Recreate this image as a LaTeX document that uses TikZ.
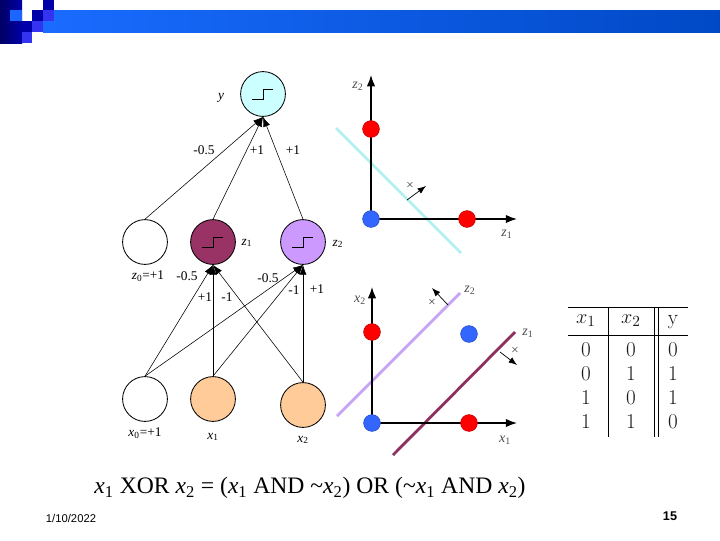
\documentclass[tikz,border=0pt]{standalone}
\usepackage{fontspec}
\newfontfamily\tnr{Liberation Serif}
\newfontfamily\arial{Liberation Sans}
\usetikzlibrary{arrows.meta}

\newcommand{\sv}[2]{\textit{#1}\textsubscript{#2}}

\begin{document}
\begin{tikzpicture}[x=0.025cm, y=-0.025cm,
    unit/.style={circle, draw, line width=0.6pt, minimum size=1.12cm, inner sep=0pt},
    stepunit/.style={unit, path picture={
        \draw[line width=0.7pt] ([shift={(-11,5)}]path picture bounding box.center)
          -- ++(11,0) -- ++(0,-10) -- ++(10,0);}},
    wire/.style={-{Latex[length=7pt,width=5pt]}, line width=0.4pt},
    lbl/.style={font=\tnr\fontsize{9.5}{10}\selectfont},
    axlbl/.style={font=\tnr\fontsize{10}{11}\selectfont, text=black!70},
    axis/.style={-{Latex[length=8pt,width=6pt]}, line width=1pt},
    dot/.style={circle, minimum size=0.42cm, inner sep=0pt, draw=#1!75!black, fill=#1},
    flip/.style={-{Latex[length=6pt,width=4.5pt]}, line width=0.5pt},
    cross/.style={font=\scriptsize, inner sep=0pt},
    cell/.style={font=\fontsize{15}{16}\selectfont, text=black!90}]
    % Define colours
    \definecolor{barLeft}{HTML}{1A6CFF}
    \definecolor{barRight}{HTML}{0049C6}
    \definecolor{navyBlue}{HTML}{0000A8}
    \definecolor{midBlue}{HTML}{3333F0}
    \definecolor{skyBlue}{HTML}{1A66FF}
    \definecolor{outColour}{HTML}{CCFFFF}
    \definecolor{zOneColour}{HTML}{993366}
    \definecolor{zTwoColour}{HTML}{CC99FF}
    \definecolor{inColour}{HTML}{FFCC99}
    \definecolor{dotRed}{HTML}{FF0000}
    \definecolor{dotBlue}{HTML}{3366FF}
    \definecolor{cyanLine}{HTML}{B0F0F0}
    \definecolor{lavLine}{HTML}{C8A4F4}
    \definecolor{marLine}{HTML}{8E3060}

  \useasboundingbox (0,0) rectangle (720,540);

  % Header bar and corner squares
  \shade[left color=barLeft, right color=barRight] (43,10) rectangle (720,32);
  \shade[left color=black!40!navyBlue, right color=navyBlue] (0,0) rectangle (22,43);
  \fill[skyBlue] (10,10) rectangle (22,21);
  \fill[navyBlue] (43,0) rectangle (54,10);
  \fill[navyBlue] (32,10) rectangle (43,21);
  \fill[midBlue] (43,10) rectangle (54,21);
  \fill[navyBlue] (22,21) rectangle (32,32);
  \fill[midBlue] (32,21) rectangle (43,32);
  \fill[midBlue] (22,32) rectangle (32,43);

  % Network units
  \node[stepunit, fill=outColour] (y) at (263,94) {};
  \node[unit] (z0) at (145,242) {};
  \node[stepunit, fill=zOneColour] (z1) at (213,242) {};
  \node[stepunit, fill=zTwoColour] (z2) at (303,242) {};
  \node[unit] (x0) at (145,399) {};
  \node[unit, fill=inColour] (x1) at (213,399) {};
  \node[unit, fill=inColour] (x2) at (303,405) {};

  % Connections
  \foreach \src in {z0,z1,z2}
    \draw[wire] (\src.north) -- (y.south);
  \foreach \src in {x0,x1,x2} {
    \draw[wire] (\src.north) -- (z1.south);
    \draw[wire] (\src.north) -- (z2.south);
  }

  % Unit labels and weights
  \node[lbl] (ylab) at (221,98) {\textit{y}};
  \node[lbl] (z1lab) at (247,243) {\sv{z}{1}};
  \node[lbl] (z2lab) at (338,244) {\sv{z}{2}};
  \node[lbl] (z0lab) at (148,276) {\sv{z}{0}=+1};
  \node[lbl] (x0lab) at (145,433) {\sv{x}{0}=+1};
  \node[lbl] (x1lab) at (213,437) {\sv{x}{1}};
  \node[lbl] (x2lab) at (303,440) {\sv{x}{2}};
  \node[lbl] (wy0) at (204,150) {-0.5};
  \node[lbl] (wy1) at (257,150) {+1};
  \node[lbl] (wy2) at (293,150) {+1};
  \node[lbl] (wa0) at (187,276) {-0.5};
  \node[lbl] (wa1) at (205,297) {+1};
  \node[lbl] (wa2) at (227,297) {-1};
  \node[lbl] (wb0) at (268,278) {-0.5};
  \node[lbl] (wb1) at (294,290) {-1};
  \node[lbl] (wb2) at (317,289) {+1};

  % Hidden space (z1, z2)
  \draw[cyanLine, line width=2pt] (336,128) -- (461,253);
  \draw[axis] (371,219) -- (371,75);
  \draw[axis] (371,219) -- (517,219);
  \node[dot=dotRed] (zp01) at (371,129) {};
  \node[dot=dotRed] (zp10) at (467,219) {};
  \node[dot=dotBlue] (zp00) at (371,219) {};
  \draw[flip] (407,200) -- (426,186);
  \node[cross] (zcross) at (410,185) {$\times$};
  \node[axlbl] (zax2) at (358,86) {\sv{z}{2}};
  \node[axlbl] (zax1) at (507,234) {\sv{z}{1}};

  % Input space (x1, x2)
  \draw[lavLine, line width=2pt] (337,416) -- (460,293);
  \draw[marLine, line width=2pt] (393,455) -- (515,332);
  \draw[axis] (372,423) -- (372,287);
  \draw[axis] (372,423) -- (517,423);
  \node[dot=dotRed] (xp01) at (372,332) {};
  \node[dot=dotBlue] (xp11) at (469,334) {};
  \node[dot=dotRed] (xp10) at (469,423) {};
  \node[dot=dotBlue] (xp00) at (372,423) {};
  \draw[flip] (448,305) -- (432,288);
  \node[cross] (xcrossa) at (432,302) {$\times$};
  \draw[flip] (500,352) -- (517,365);
  \node[cross] (xcrossb) at (515,350) {$\times$};
  \node[axlbl] (xax2) at (360,300) {\sv{x}{2}};
  \node[axlbl] (xax1) at (505,440) {\sv{x}{1}};
  \node[axlbl] (lz2) at (470,290) {\sv{z}{2}};
  \node[axlbl] (lz1) at (528,333) {\sv{z}{1}};

  % Truth table
  \draw[line width=0.5pt] (568,307) -- (688,307);
  \draw[line width=0.5pt] (568,335) -- (688,335);
  \foreach \vx in {608,654,658}
    \draw[line width=0.5pt] (\vx,307) -- (\vx,437);
  \node[cell] (h1) at (586,321) {$x_1$};
  \node[cell] (h2) at (631,321) {$x_2$};
  \node[cell] (h3) at (673,322) {y};
  \foreach \a/\b/\c [count=\r] in {0/0/0,0/1/1,1/0/1,1/1/0} {
    \node[cell] (a\r) at (586,326+24*\r) {\a};
    \node[cell] (b\r) at (631,326+24*\r) {\b};
    \node[cell] (c\r) at (673,326+24*\r) {\c};
  }

  % Caption and footer
  \node[font=\tnr\fontsize{16.8}{18}\selectfont] (xor) at (310,488)
    {\sv{x}{1} XOR \sv{x}{2} = (\sv{x}{1} AND \textasciitilde\sv{x}{2}) OR (\textasciitilde\sv{x}{1} AND \sv{x}{2})};
  \node[font=\arial\fontsize{8}{9}\selectfont] (date) at (71,518) {1/10/2022};
  \node[font=\arial\bfseries\fontsize{9}{10}\selectfont] (page) at (670,516) {15};
  
\end{tikzpicture}
\end{document}
